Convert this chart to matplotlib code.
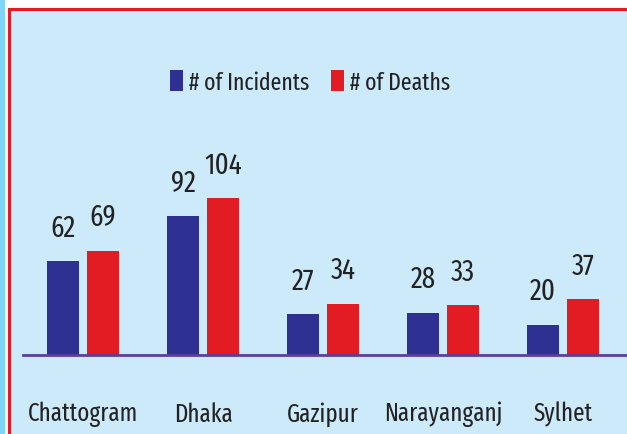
import numpy as np
import matplotlib.pyplot as plt
from matplotlib.patches import Rectangle
from matplotlib.lines import Line2D

# data
districts = ["Chattogram", "Dhaka", "Gazipur", "Narayanganj", "Sylhet"]
incidents = [62, 92, 27, 28, 20]
deaths = [69, 104, 34, 33, 37]

blue = "#2e3192"
red = "#e31b23"
bg = "#cceafa"

plt.rcParams['font.family'] = ['Fira Sans Extra Condensed', 'DejaVu Sans']

W, H = 627, 435
fig = plt.figure(figsize=(W / 100, H / 100), dpi=100, facecolor="white")

# panel background with red frame on left and top
fig.patches.append(Rectangle((0, 0), 5 / W, 1, transform=fig.transFigure,
                             facecolor="#80d4f5", edgecolor="none", zorder=-3))
fig.patches.append(Rectangle((9 / W, 0), 1, (H - 10) / H, transform=fig.transFigure,
                             facecolor=bg, edgecolor="none", zorder=-3))
fig.lines.append(Line2D([9 / W, 9 / W], [0, (H - 10) / H], transform=fig.transFigure,
                        color=red, lw=2.2, zorder=-2))
fig.lines.append(Line2D([9 / W, 1], [(H - 10) / H, (H - 10) / H], transform=fig.transFigure,
                        color=red, lw=2.2, zorder=-2))

ax = fig.add_axes([23 / W, (H - 356) / H, (W - 23) / W, (356 - 12) / H])
ax.set_facecolor("none")

x = np.arange(len(districts))
w = 32 / 120
off = 20 / 120
b1 = ax.bar(x - off, incidents, w, color=blue, label="# of Incidents")
b2 = ax.bar(x + off, deaths, w, color=red, label="# of Deaths")
ax.bar_label(b1, padding=14, fontsize=21, color="#222222")
ax.bar_label(b2, padding=14, fontsize=21, color="#222222")

ax.set_xlim(-0.5, (W - 83) / 120)
ax.set_ylim(0, 344 / 1.51)
ax.set_xticks(x)
ax.set_xticklabels(districts, fontsize=18, color="#222222")
ax.tick_params(axis="x", length=0, pad=33)
ax.set_yticks([])
for s in ["left", "right", "top"]:
    ax.spines[s].set_visible(False)
ax.spines["bottom"].set_color("#5a3f9e")
ax.spines["bottom"].set_linewidth(2)

ax.legend(loc="center", bbox_to_anchor=(310 / W, (H - 83) / H),
          bbox_transform=fig.transFigure, ncol=2, frameon=False,
          fontsize=17, handlelength=0.55, handleheight=0.95,
          handletextpad=0.25, columnspacing=0.9, labelcolor="#222222")

fig.savefig("out.png", dpi=100, facecolor="white")
